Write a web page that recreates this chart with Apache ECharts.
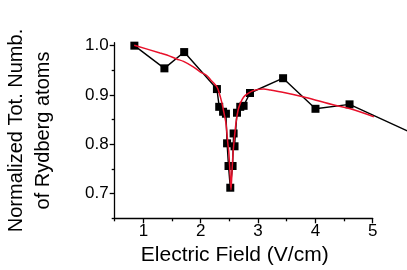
<!DOCTYPE html>
<html><head><meta charset="utf-8">
<script src="https://cdn.jsdelivr.net/npm/echarts@6/dist/echarts.min.js"></script>
<style>html,body{margin:0;padding:0;background:#fff}#c{width:407px;height:270px}</style>
</head><body><div id="c"></div>
<script>
// measured data (Electric Field V/cm, normalized number)
const measX = [0.843,1.367,1.712,2.283,2.323,2.39,2.44,2.46,2.485,2.516,2.556,2.574,2.59,2.633,2.69,2.748,2.86,3.437,4.002,4.596,6.0];
const measY = [1.0,0.954,0.987,0.912,0.876,0.866,0.862,0.802,0.756,0.712,0.756,0.822,0.796,0.864,0.876,0.878,0.904,0.934,0.872,0.881,0.806];
// fit curve
const fitX = [0.84,1.29,1.41,1.58,1.70,1.87,1.99,2.11,2.17,2.25,2.28,2.31,2.37,2.40,2.44,2.475,2.49,2.51,2.528,2.545,2.56,2.574,2.615,2.65,2.69,2.75,2.81,2.92,3.1,3.215,3.45,3.8,4.03,4.38,4.61,5.02];
const fitY = [1.001,0.985,0.981,0.973,0.968,0.957,0.947,0.939,0.931,0.921,0.917,0.909,0.884,0.867,0.843,0.80,0.785,0.745,0.708,0.742,0.775,0.796,0.843,0.868,0.883,0.896,0.902,0.909,0.912,0.910,0.905,0.896,0.889,0.878,0.872,0.856];
const xMajor = [1,2,3,4,5];
const xMinor = [0.5,1.5,2.5,3.5,4.5];
const yMajor = [0.7,0.8,0.9,1.0];
const yMinor = [0.65,0.75,0.85,0.95];

const W = 407, L = 114.7, R = 34.3;
const xMin = 0.5, xMax = 5, yMin = 0.65, yMax = 1.006;
const pxPerUnit = (W - L - R) / (xMax - xMin);
const xMaxWide = xMin + (W - L) / pxPerUnit; // data grid reaches the right edge

const chart = echarts.init(document.getElementById('c'));
const font = 'Liberation Sans, Arial, sans-serif';
const axisBase = {type:'value', splitLine:{show:false}};
const gridBox = {top:42.7, bottom:51.7, outerBoundsMode:'none', containLabel:false};
chart.setOption({
  animation:false,
  grid:[
    Object.assign({left:L, right:R}, gridBox),
    Object.assign({left:L, right:0}, gridBox)
  ],
  xAxis:[
    Object.assign({}, axisBase, {gridIndex:0, min:xMin, max:xMax,
      axisLine:{show:true, lineStyle:{color:'#000', width:1.3}},
      axisTick:{show:true, length:5, customValues:xMajor, lineStyle:{color:'#000', width:1.3}},
      axisLabel:{customValues:xMajor, color:'#000', fontFamily:font, fontSize:17, margin:5},
      name:'Electric Field (V/cm)', nameLocation:'middle', nameGap:22,
      nameTextStyle:{color:'#000', fontFamily:font, fontSize:21, padding:[0,18,0,0]}
    }),
    Object.assign({}, axisBase, {gridIndex:0, min:xMin, max:xMax, position:'bottom',
      axisLine:{show:false},
      axisTick:{show:true, length:3, customValues:xMinor, lineStyle:{color:'#000', width:1.3}},
      axisLabel:{show:false}
    }),
    Object.assign({}, axisBase, {gridIndex:1, min:xMin, max:xMaxWide, show:false})
  ],
  yAxis:[
    Object.assign({}, axisBase, {gridIndex:0, min:yMin, max:yMax,
      axisLine:{show:true, lineStyle:{color:'#000', width:1.3}},
      axisTick:{show:true, length:5, customValues:yMajor, lineStyle:{color:'#000', width:1.3}},
      axisLabel:{customValues:yMajor, color:'#000', fontFamily:font, fontSize:17, margin:6,
        formatter:v=>v.toFixed(1)},
      name:'Normalized Tot. Numb.\nof Rydberg atoms', nameLocation:'middle', nameGap:58,
      nameTextStyle:{color:'#000', fontFamily:font, fontSize:20, lineHeight:27}
    }),
    Object.assign({}, axisBase, {gridIndex:0, min:yMin, max:yMax, position:'left',
      axisLine:{show:false},
      axisTick:{show:true, length:3, customValues:yMinor, lineStyle:{color:'#000', width:1.3}},
      axisLabel:{show:false}
    }),
    Object.assign({}, axisBase, {gridIndex:1, min:yMin, max:yMax, show:false})
  ],
  series:[
    {type:'line', xAxisIndex:2, yAxisIndex:2, data:measX.map((x,i)=>[x,measY[i]]),
      symbol:'rect', symbolSize:8, itemStyle:{color:'#000'},
      lineStyle:{color:'#000', width:1.4}, z:2},
    {type:'line', xAxisIndex:0, yAxisIndex:0, data:fitX.map((x,i)=>[x,fitY[i]]), symbol:'none', smooth:0.3,
      lineStyle:{color:'#e8102a', width:1.5}, z:3}
  ]
});
</script></body></html>
